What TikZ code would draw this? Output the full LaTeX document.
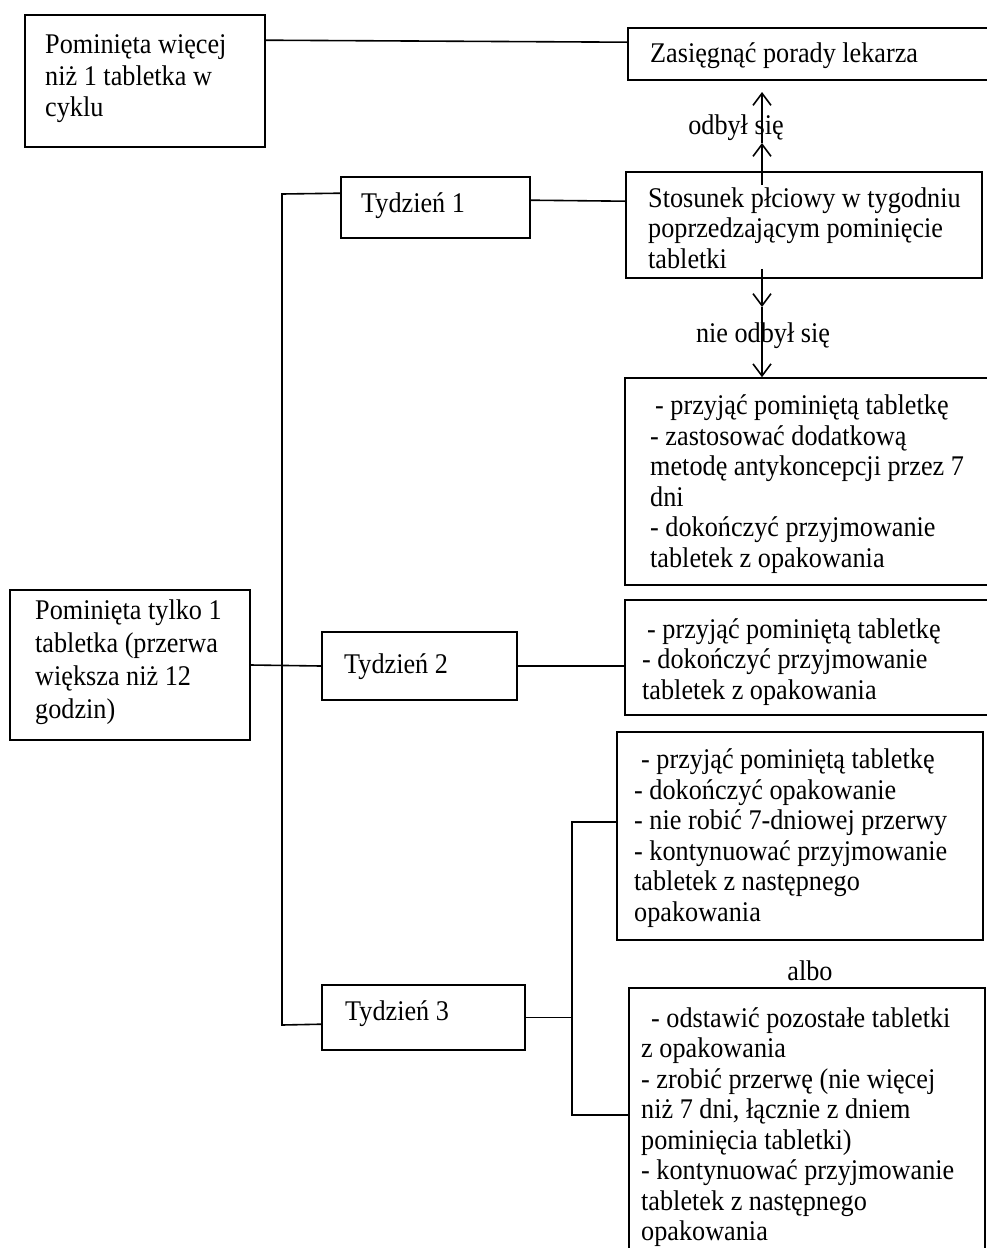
\documentclass[tikz,border=0pt]{standalone}
\usepackage{fontspec}
\setmainfont[FakeStretch=0.92]{Liberation Serif}
\usetikzlibrary{arrows.meta}
\newcommand\diagfont{\fontsize{28.5}{30.5}\selectfont}
\begin{document}
\begin{tikzpicture}[x=1pt,y=-1pt,
  box/.style={draw, line width=1.6pt, inner sep=0pt, anchor=center},
  txt/.style={font=\diagfont, align=left, inner sep=0pt, anchor=west},
  lbl/.style={font=\diagfont, inner sep=0pt},
  conn/.style={line width=1.6pt},
  arr/.style={line width=1.6pt, -{Straight Barb[length=12pt,width=18pt]}}]
\useasboundingbox (0,0) rectangle (987,1248);
\clip (0,0) rectangle (987,1248);
\fill[white] (0,0) rectangle (987,1248);

% boxes (frames)
\node[box, minimum width=240pt, minimum height=132pt] (b1) at (145,81) {};
\node[box, minimum width=367pt, minimum height=52pt] (b2) at (811.5,54) {};
\node[box, minimum width=356pt, minimum height=106pt] (stos) at (804,225) {};
\node[box, minimum width=189pt, minimum height=61pt] (t1) at (435.5,207.5) {};
\node[box, minimum width=370pt, minimum height=207pt] (b5) at (810,481.5) {};
\node[box, minimum width=240pt, minimum height=150pt] (b3) at (130,665) {};
\node[box, minimum width=195pt, minimum height=68pt] (t2) at (419.5,666) {};
\node[box, minimum width=370pt, minimum height=115pt] (b6) at (810,657.5) {};
\node[box, minimum width=366pt, minimum height=208pt] (b7) at (800,836) {};
\node[box, minimum width=203pt, minimum height=65pt] (t3) at (423.5,1017.5) {};
\node[box, minimum width=356pt, minimum height=272pt] (b4) at (807,1124) {};

% texts
\node[txt, font=\fontsize{28.5}{31.5}\selectfont] (b1t) at (45,79)
  {Pominięta więcej\\niż 1 tabletka w\\cyklu};
\node[txt] (b2t) at (650,56) {Zasięgnąć porady lekarza};
\node[txt] (stost) at (648,228)
  {Stosunek płciowy w tygodniu\\poprzedzającym pominięcie\\tabletki};
\node[txt] (t1t) at (361,206) {Tydzień 1};
\node[txt] (b5t) at (650,484)
  {\hspace*{5pt}- przyjąć pominiętą tabletkę\\- zastosować dodatkową\\metodę antykoncepcji przez 7\\dni\\- dokończyć przyjmowanie\\tabletek z opakowania};
\node[txt, font=\fontsize{28.5}{33}\selectfont] (b3t) at (35,662)
  {Pominięta tylko 1\\tabletka (przerwa\\większa niż 12\\godzin)};
\node[txt] (t2t) at (344,667) {Tydzień 2};
\node[txt] (b6t) at (642,662)
  {\hspace*{5pt}- przyjąć pominiętą tabletkę\\- dokończyć przyjmowanie\\tabletek z opakowania};
\node[txt] (b7t) at (634,838)
  {\hspace*{7pt}- przyjąć pominiętą tabletkę\\- dokończyć opakowanie\\- nie robić 7-dniowej przerwy\\- kontynuować przyjmowanie\\tabletek z następnego\\opakowania};
\node[txt] (t3t) at (345,1014) {Tydzień 3};
\node[txt] (b4t) at (641,1127)
  {\hspace*{10pt}- odstawić pozostałe tabletki\\z opakowania\\- zrobić przerwę (nie więcej\\niż 7 dni, łącznie z dniem\\pominięcia tabletki)\\- kontynuować przyjmowanie\\tabletek z następnego\\opakowania};

% labels
\node[lbl] (odb) at (736,128) {odbył się};
\node[lbl] (nodb) at (763,336) {nie odbył się};
\node[lbl] (albo) at (810,971) {albo};

% coordinates
\coordinate (up1) at (762,143);
\coordinate (up2) at (762,92);
\coordinate (dn1) at (762,307);
\coordinate (s1) at (282,194);
\coordinate (s2) at (282,1025);
\coordinate (br1) at (572,822);
\coordinate (br2) at (572,1115);

% connectors
\draw[conn] ([yshift=-26pt]b1.north east) -- ([yshift=-15pt]b2.north west);
\draw[arr] ([yshift=-14pt]stos.north -| up1) -- (up1);
\draw[arr] (up1) -- (up2);
\draw[arr] ([yshift=10pt]stos.south -| dn1) -- (dn1);
\draw[arr] (dn1) -- (b5.north -| dn1);
\draw[conn] ([yshift=-24pt]t1.north east) -- ([yshift=-30pt]stos.north west);
\draw[conn] ([yshift=-17pt]t1.north west) -- (s1) -- (s2) -- ([yshift=-40pt]t3.north west);
\draw[conn] (b3.east) -- (t2.west);
\draw[conn] (t2.east) -- (b6.west |- t2.east);
\draw[conn] (t3.east) -- (t3.east -| br1);
\draw[conn] (b7.west |- br1) -- (br1) -- (br2) -- (b4.west |- br2);
\end{tikzpicture}
\end{document}
